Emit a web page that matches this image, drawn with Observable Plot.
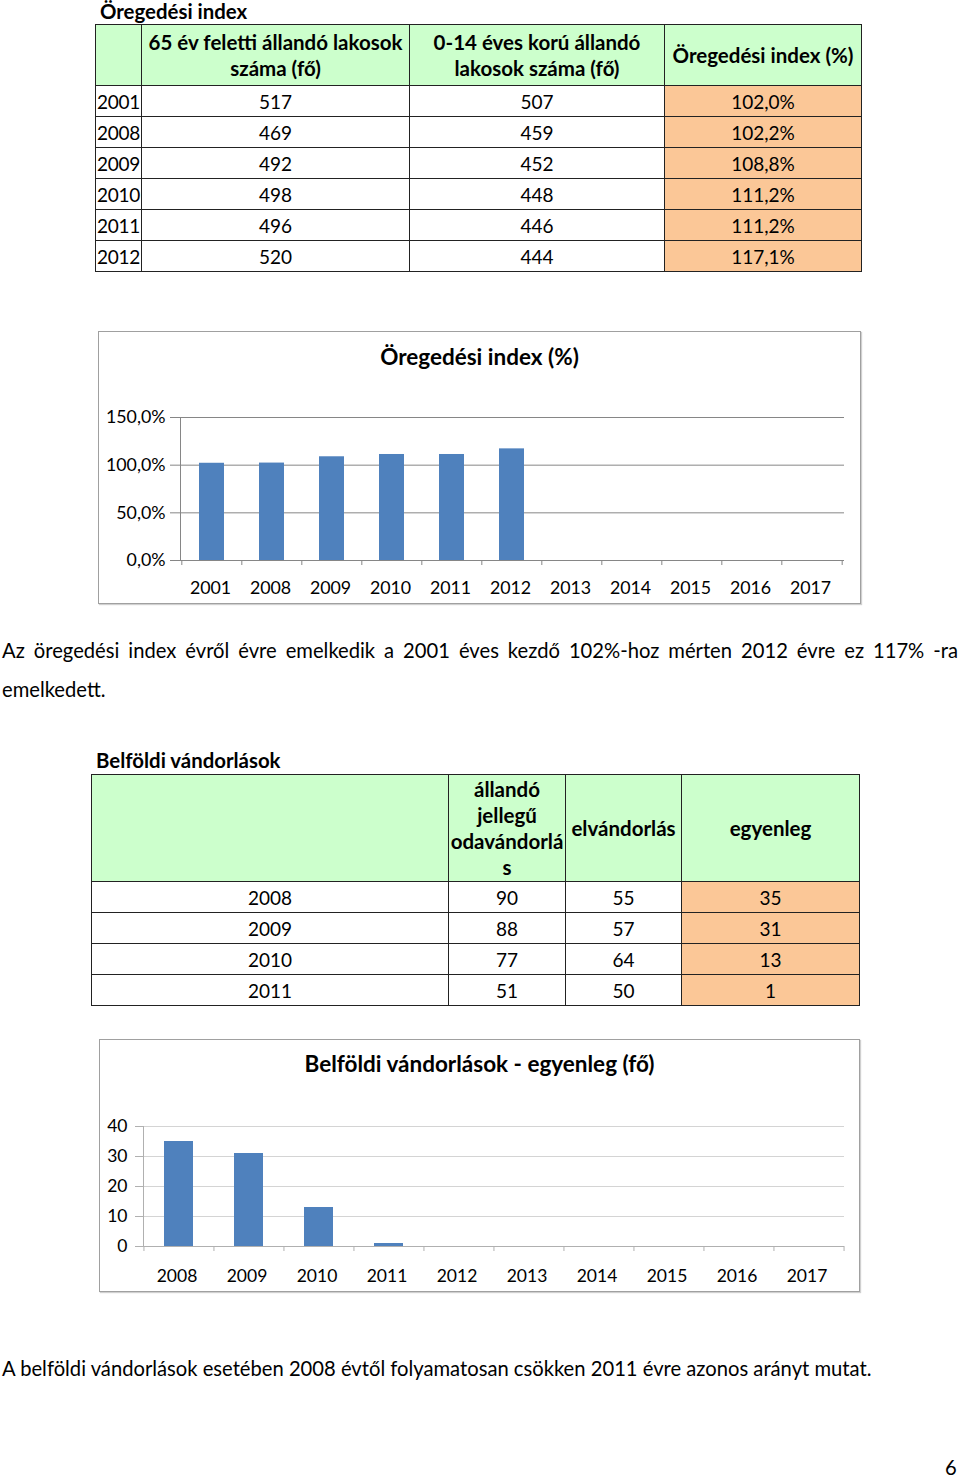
<!DOCTYPE html>
<html><head><meta charset="utf-8">
<script src="https://cdn.jsdelivr.net/npm/d3@7"></script>
<script src="https://cdn.jsdelivr.net/npm/@observablehq/plot@0.6"></script>
<style>
body{margin:0;width:960px;height:1478px;position:relative;background:#fff;font-family:Lato,"Liberation Sans",sans-serif;color:#000;overflow:hidden}
.abs{position:absolute;white-space:nowrap}
table{border-collapse:collapse;table-layout:fixed;position:absolute;font-size:19px}
td,th{border:1px solid #222;padding:0;vertical-align:middle}
th{background:#ccffcc;font-weight:bold;font-size:20.5px;line-height:26px;text-align:center;white-space:nowrap}
tr.r{height:31px}
td{text-align:center}
td.y{text-align:left;padding-left:1px;letter-spacing:-0.3px}
td.hl{background:#fbc797}
.frame{position:absolute;border:1px solid #a0a0a0;box-shadow:1px 1px 1px #d0d0d0;background:#fff}
.ctitle{position:absolute;font-weight:bold;font-size:22.5px;text-align:center;left:0;right:0;line-height:26px}
.bold{font-weight:bold;font-size:20.4px}
.p{font-size:20.2px}
</style></head><body>
<script>
// ---- data ----
const years1 = ["2001","2008","2009","2010","2011","2012"];
const over65 = [517,469,492,498,496,520];
const under14 = [507,459,452,448,446,444];
const agingIndex = [102.0,102.2,108.8,111.2,111.2,117.1];
const chartYears1 = ["2001","2008","2009","2010","2011","2012","2013","2014","2015","2016","2017"];
const yTicks1 = [0,50,100,150];

const years2 = ["2008","2009","2010","2011"];
const inMigration = [90,88,77,51];
const outMigration = [55,57,64,50];
const balance = [35,31,13,1];
const chartYears2 = ["2008","2009","2010","2011","2012","2013","2014","2015","2016","2017"];
const yTicks2 = [0,10,20,30,40];

const fmtPct = v => v.toFixed(1).replace(".", ",") + "%";

const body = document.body;
function div(cls, style, html){
  const d = document.createElement("div");
  d.className = cls; d.style.cssText = style; d.innerHTML = html;
  body.appendChild(d); return d;
}

// ---- Table 1 ----
div("abs bold", "left:100px;top:0px;line-height:22px;", "Öregedési index");
{
  const t = document.createElement("table");
  t.style.cssText = "left:95px;top:24px;width:767px;";
  t.innerHTML = `<colgroup><col style="width:46px"><col style="width:268px"><col style="width:255px"><col style="width:197px"></colgroup>`+
   `<tr style="height:61px"><th></th><th>65 év feletti állandó lakosok<br>száma (fő)</th><th>0-14 éves korú állandó<br>lakosok száma (fő)</th><th>Öregedési index (%)</th></tr>`+
   years1.map((y,i)=>`<tr class="r"><td class="y">${y}</td><td>${over65[i]}</td><td>${under14[i]}</td><td class="hl">${fmtPct(agingIndex[i])}</td></tr>`).join("");
  body.appendChild(t);
}

// ---- Chart 1 ----
const f1 = div("frame", "left:98px;top:331px;width:761px;height:271px;", "");
const t1 = document.createElement("div"); t1.className="ctitle"; t1.style.top="12px"; t1.textContent="Öregedési index (%)"; f1.appendChild(t1);
{
  const W=762, H=200, ml=82, mr=16, mt=17, mb=40;
  const step = (W-ml-mr)/chartYears1.length;
  const grid = "#868686";
  const p = Plot.plot({
    width:W, height:H, marginLeft:ml, marginRight:mr, marginTop:mt, marginBottom:mb,
    style:{fontFamily:"Lato, 'Liberation Sans', sans-serif", fontSize:"17.8px", background:"transparent", overflow:"visible", color:"#000"},
    x:{type:"band", domain:chartYears1, paddingInner:0.58, paddingOuter:0.29, label:null},
    y:{domain:[0,150], label:null},
    marks:[
      Plot.gridY(yTicks1, {stroke:grid, strokeOpacity:1}),
      Plot.barY(years1.map((y,i)=>({year:y, v:agingIndex[i]})), {x:"year", y:"v", fill:"#4f81bd"}),
      Plot.frame({anchor:"left", stroke:grid, strokeOpacity:1}),
      Plot.axisY({ticks:yTicks1, tickSize:10, tickPadding:5, tickFormat:fmtPct, stroke:grid, fill:"#000", label:null}),
      Plot.axisX({tickSize:5, dx:-step/2, tickFormat:()=>"", stroke:grid, label:null}),
      Plot.axisX({ticks:[chartYears1[chartYears1.length-1]], tickSize:5, dx:step/2, tickFormat:()=>"", stroke:grid, label:null}),
      Plot.axisX({tickSize:0, tickPadding:21, dx:-1.5, fill:"#000", label:null})
    ]
  });
  const w = document.createElement("div"); w.style.cssText="position:absolute;left:98px;top:400px;";
  w.appendChild(p); body.appendChild(w);
}

// ---- Paragraph 1 ----
div("abs p", "left:2px;top:631px;width:956px;white-space:normal;text-align:justify;text-align-last:left;line-height:39px;",
  "Az öregedési index évről évre emelkedik a 2001 éves kezdő 102%-hoz mérten 2012 évre ez 117% -ra emelkedett.");

// ---- Table 2 ----
div("abs bold", "left:96px;top:749px;line-height:22px;", "Belföldi vándorlások");
{
  const t = document.createElement("table");
  t.style.cssText = "left:91px;top:774px;width:769px;";
  t.innerHTML = `<colgroup><col style="width:357px"><col style="width:117px"><col style="width:116px"><col style="width:178px"></colgroup>`+
   `<tr style="height:107px"><th></th><th>állandó<br>jellegű<br>odavándorlá<br>s</th><th>elvándorlás</th><th>egyenleg</th></tr>`+
   years2.map((y,i)=>`<tr class="r"><td>${y}</td><td>${inMigration[i]}</td><td>${outMigration[i]}</td><td class="hl">${balance[i]}</td></tr>`).join("");
  body.appendChild(t);
}

// ---- Chart 2 ----
const f2 = div("frame", "left:99px;top:1039px;width:759px;height:251px;", "");
const t2 = document.createElement("div"); t2.className="ctitle"; t2.style.top="11px"; t2.textContent="Belföldi vándorlások - egyenleg (fő)"; f2.appendChild(t2);
{
  const W=760, H=180, ml=44, mr=15, mt=16, mb=44;
  const step = (W-ml-mr)/chartYears2.length;
  const grid = "#d4d4d4", axis="#b0b0b0";
  const p = Plot.plot({
    width:W, height:H, marginLeft:ml, marginRight:mr, marginTop:mt, marginBottom:mb,
    style:{fontFamily:"Lato, 'Liberation Sans', sans-serif", fontSize:"17.5px", background:"transparent", overflow:"visible", color:"#000"},
    x:{type:"band", domain:chartYears2, paddingInner:0.58, paddingOuter:0.29, label:null},
    y:{domain:[0,40], label:null},
    marks:[
      Plot.gridY(yTicks2, {stroke:grid, strokeOpacity:1}),
      Plot.barY(years2.map((y,i)=>({year:y, v:balance[i]})), {x:"year", y:"v", fill:"#4f81bd"}),
      Plot.ruleY([0], {stroke:axis}),
      Plot.frame({anchor:"left", stroke:axis, strokeOpacity:1}),
      Plot.axisY({ticks:yTicks2, tickSize:8, tickPadding:8, stroke:axis, fill:"#000", label:null}),
      Plot.axisX({tickSize:5, dx:-step/2, tickFormat:()=>"", stroke:axis, label:null}),
      Plot.axisX({ticks:[chartYears2[chartYears2.length-1]], tickSize:5, dx:step/2, tickFormat:()=>"", stroke:axis, label:null}),
      Plot.axisX({tickSize:0, tickPadding:23, dx:-2, fill:"#000", label:null})
    ]
  });
  const w = document.createElement("div"); w.style.cssText="position:absolute;left:99px;top:1110px;";
  w.appendChild(p); body.appendChild(w);
}

// ---- Paragraph 2 & page number ----
div("abs p", "left:2px;top:1355px;line-height:26px;", "A belföldi vándorlások esetében 2008 évtől folyamatosan csökken 2011 évre azonos arányt mutat.");
div("abs p", "left:945px;top:1456px;line-height:22px;", "6");
</script>
</body></html>
